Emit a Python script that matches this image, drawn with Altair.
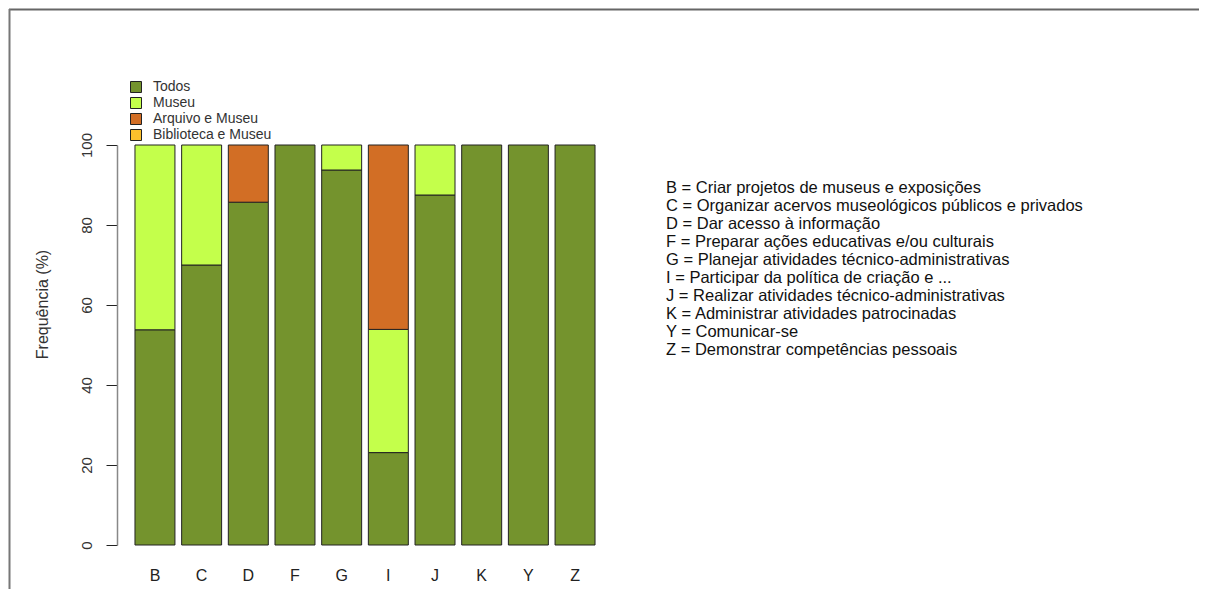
import altair as alt
import pandas as pd

categories = ["B", "C", "D", "F", "G", "I", "J", "K", "Y", "Z"]
series_names = ["Todos", "Museu", "Arquivo e Museu", "Biblioteca e Museu"]
series_colors = ["#74932d", "#c4ff4b", "#d26e25", "#fcc02c"]
todos = [53.8, 70.0, 85.7, 100.0, 93.75, 23.1, 87.5, 100.0, 100.0, 100.0]
museu = [46.2, 30.0, 0.0, 0.0, 6.25, 30.8, 12.5, 0.0, 0.0, 0.0]
arquivo = [0.0, 0.0, 14.3, 0.0, 0.0, 46.1, 0.0, 0.0, 0.0, 0.0]
biblioteca = [0.0] * 10
y_ticks = [0, 20, 40, 60, 80, 100]
descriptions = [
    "B = Criar projetos de museus e exposições",
    "C = Organizar acervos museológicos públicos e privados",
    "D = Dar acesso à informação",
    "F = Preparar ações educativas e/ou culturais",
    "G = Planejar atividades técnico-administrativas",
    "I = Participar da política de criação e ...",
    "J = Realizar atividades técnico-administrativas",
    "K = Administrar atividades patrocinadas",
    "Y = Comunicar-se",
    "Z = Demonstrar competências pessoais",
]

rows = []
for si, (name, vals) in enumerate(zip(series_names, [todos, museu, arquivo, biblioteca])):
    for c, v in zip(categories, vals):
        if v > 0:
            rows.append({"cat": c, "serie": name, "value": v, "ord": si})
df = pd.DataFrame(rows)

FONT = "Liberation Sans"

bars = alt.Chart(df).mark_bar(stroke="#222222", strokeWidth=1).encode(
    x=alt.X("cat:N", sort=categories, title=None,
            scale=alt.Scale(paddingInner=0.1435, paddingOuter=0.385),
            axis=alt.Axis(domain=False, ticks=False, grid=False, labelAngle=0, labelFontSize=16,
                          labelFont=FONT, labelColor="#222222", labelPadding=30,
                          labelBaseline="middle")),
    y=alt.Y("value:Q", stack="zero", title="Frequência (%)",
            scale=alt.Scale(domain=[0, 100], nice=False),
            axis=alt.Axis(values=y_ticks, grid=False, domainColor="#888888", domainWidth=1.5,
                          tickColor="#222222", tickSize=11, labelAngle=270,
                          labelAlign="center", labelBaseline="middle", labelPadding=20,
                          labelFont=FONT, labelFontSize=15, labelColor="#333333",
                          titleFont=FONT, titleFontSize=16, titleFontWeight="normal",
                          titleColor="#333333", titleAngle=270, titleX=-75, titleY=159,
                          titleAlign="center", titleBaseline="middle")),
    color=alt.Color("serie:N",
                    scale=alt.Scale(domain=series_names, range=series_colors),
                    legend=alt.Legend(title=None, orient="none", legendX=12, legendY=-65,
                                      symbolType="square", symbolSize=121,
                                      symbolStrokeColor="#222222", symbolStrokeWidth=1,
                                      labelFont=FONT, labelFontSize=14, labelColor="#333333",
                                      labelOffset=10, rowPadding=0, padding=0)),
    order=alt.Order("ord:Q"),
)

frame_top = alt.Chart(pd.DataFrame({"k": [0]})).mark_rule(color="#666666", strokeWidth=2).encode(
    x=alt.value(-108), x2=alt.value(1100), y=alt.value(-135.5))
frame_left = alt.Chart(pd.DataFrame({"k": [0]})).mark_rule(color="#777777", strokeWidth=2).encode(
    x=alt.value(-107.5), y=alt.value(-136), y2=alt.value(470))

chart = alt.layer(frame_top, frame_left, bars).properties(
    width=496, height=400,
    view=alt.ViewBackground(stroke="transparent", strokeWidth=0, fill="white"),
    title=alt.TitleParams(text=descriptions, orient="top", anchor="start", baseline="top",
                          font=FONT, fontSize=16.5, fontWeight="normal", color="#111111",
                          lineHeight=18, dx=549, dy=350, frame="group", offset=0),
    padding={"left": 109, "top": 137, "right": 586, "bottom": 44},
    autosize=alt.AutoSizeParams(type="none"),
).configure_view(stroke="transparent", strokeWidth=0).configure(background="white")

chart.save("out.html", embed_options={"renderer": "svg", "actions": False})
